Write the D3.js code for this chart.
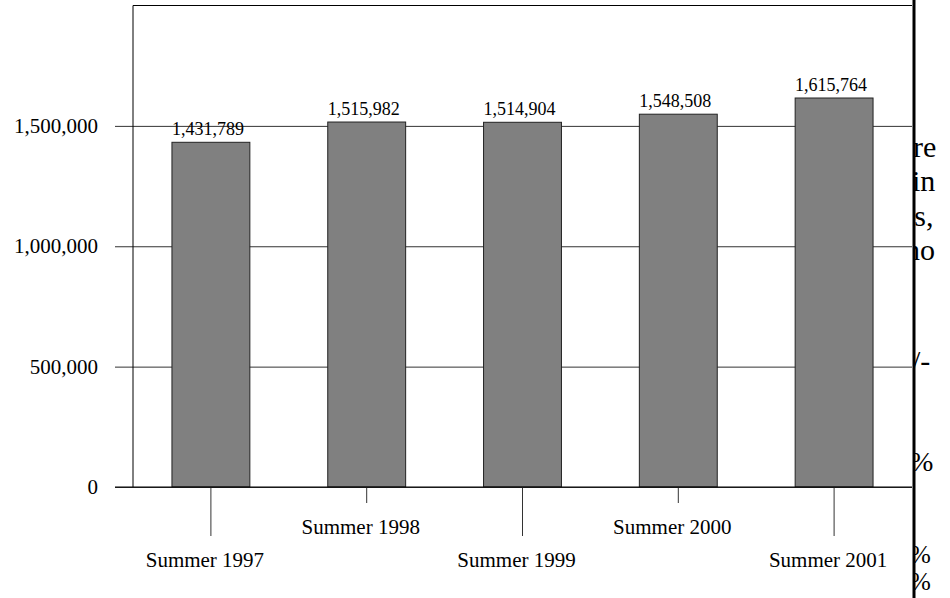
<!DOCTYPE html>
<html>
<head>
<meta charset="utf-8">
<script src="https://cdn.jsdelivr.net/npm/d3@7"></script>
<style>
  body { margin: 0; background: #fff; }
  svg { display: block; }
  text { font-family: "Liberation Serif", "Times New Roman", serif; fill: #000; }
</style>
</head>
<body>
<script>
// Chart data
const seasons = ["Summer 1997", "Summer 1998", "Summer 1999", "Summer 2000", "Summer 2001"];
const enrollment = [1431789, 1515982, 1514904, 1548508, 1615764];
const yTicks = [0, 500000, 1000000, 1500000];

const W = 950, H = 598;
const plot = { left: 133, right: 912, top: 5.5, bottom: 487 };

const svg = d3.select("body").append("svg")
    .attr("width", W)
    .attr("height", H);

const x = d3.scaleBand()
    .domain(seasons)
    .range([plot.left, plot.right])
    .paddingInner(0.5)
    .paddingOuter(0.25);

const y = d3.scaleLinear()
    .domain([0, 2000000])
    .range([plot.bottom, plot.top]);

// Gridlines + y labels
const yAxis = svg.append("g")
    .attr("transform", `translate(${plot.right},0)`)
    .call(d3.axisLeft(y)
        .tickValues(yTicks)
        .tickFormat(d3.format(","))
        .tickSize(plot.right - 115)
        .tickPadding(17));
yAxis.select(".domain").remove();
yAxis.selectAll(".tick line").attr("stroke", "#333");
yAxis.selectAll(".tick text")
    .style("font-size", "21px")
    .style("font-family", "'Liberation Serif', 'Times New Roman', serif");

// Frame (top and left)
svg.append("line")
    .attr("x1", plot.left).attr("x2", plot.right)
    .attr("y1", plot.top).attr("y2", plot.top)
    .attr("stroke", "#000");
svg.append("line")
    .attr("x1", plot.left).attr("x2", plot.left)
    .attr("y1", plot.top).attr("y2", plot.bottom)
    .attr("stroke", "#000");

// Bars
svg.selectAll("rect.bar")
    .data(enrollment)
    .join("rect")
    .attr("class", "bar")
    .attr("x", (d, i) => x(seasons[i]))
    .attr("y", d => y(d))
    .attr("width", x.bandwidth())
    .attr("height", d => y(0) - y(d))
    .attr("fill", "#808080")
    .attr("stroke", "#222")
    .attr("stroke-width", 1);

// Value labels
svg.selectAll("text.value")
    .data(enrollment)
    .join("text")
    .attr("class", "value")
    .attr("x", (d, i) => x(seasons[i]) + x.bandwidth() / 2 - 3)
    .attr("y", d => y(d) - 7)
    .attr("text-anchor", "middle")
    .style("font-size", "18px")
    .text(d => d3.format(",")(d));

// X axis with staggered labels
const xAxis = svg.append("g")
    .attr("transform", `translate(0,${plot.bottom})`)
    .call(d3.axisBottom(x).tickSizeOuter(0));
xAxis.select(".domain").remove();
xAxis.selectAll(".tick line")
    .attr("stroke", "#333")
    .attr("y2", (d, i) => i % 2 === 0 ? 49 : 16);
xAxis.selectAll(".tick text")
    .attr("y", (d, i) => i % 2 === 0 ? 80 : 47)
    .attr("dy", 0)
    .attr("dx", -6)
    .style("font-size", "21px")
    .style("font-family", "'Liberation Serif', 'Times New Roman', serif");

// Baseline
svg.append("line")
    .attr("x1", 115).attr("x2", plot.right)
    .attr("y1", y(0)).attr("y2", y(0))
    .attr("stroke", "#000");

// Cut-off text from the page behind the chart
svg.append("clipPath").attr("id", "side")
    .append("rect").attr("x", 915).attr("y", 0).attr("width", 40).attr("height", H);
const side = svg.append("g").attr("clip-path", "url(#side)");
[["re", 913, 157, 30], ["in", 912, 191, 30], ["ts,", 906, 226, 30], ["no", 905, 260, 30],
 ["/-", 912, 371, 30], ["%", 910, 471, 28], ["%", 910, 563, 25], ["%", 910, 590, 25]]
    .forEach(([t, tx, ty, fs]) => {
        side.append("text").attr("x", tx).attr("y", ty)
            .style("font-size", fs + "px").text(t);
    });

// Thick right border
svg.append("line")
    .attr("x1", 914).attr("x2", 914)
    .attr("y1", 0).attr("y2", H)
    .attr("stroke", "#000")
    .attr("stroke-width", 3);
</script>
</body>
</html>
